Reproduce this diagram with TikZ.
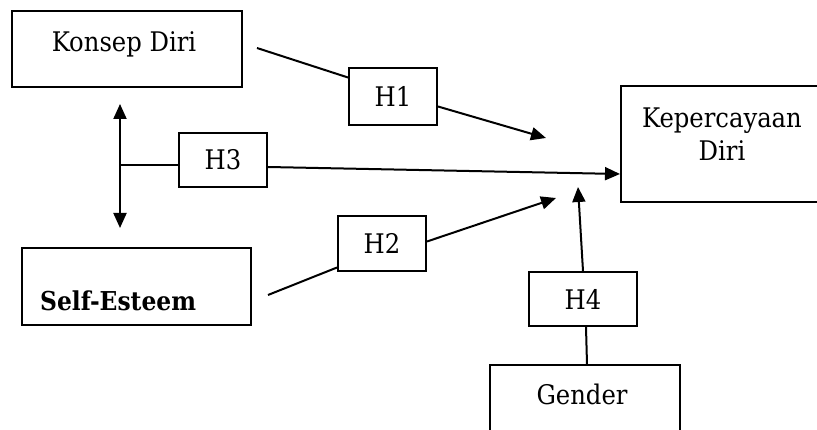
\documentclass[tikz,border=0pt]{standalone}
\usepackage{fontspec}
\setmainfont{DejaVu Serif Condensed}
\usetikzlibrary{arrows.meta}
\begin{document}
\begin{tikzpicture}[x=1pt,y=-1pt,
  box/.style={draw=black,line width=2pt,rectangle,inner sep=0pt},
  txt/.style={inner sep=0pt,font=\fontsize{27}{33}\selectfont},
  conn/.style={draw=black,line width=2pt},
  arr/.style={conn,-{Triangle[length=15pt,width=13pt]}},
  darr/.style={conn,{Triangle[length=15pt,width=13pt]}-{Triangle[length=15pt,width=13pt]}}]
\useasboundingbox (0,0) rectangle (817,430);
\begin{scope}
\clip (0,0) rectangle (817,430);
% main boxes
\node[box,minimum width=230pt,minimum height=76pt] (konsep) at (127,49) {};
\node[txt] (tkonsep) at (124,44) {Konsep Diri};
\node[box,minimum width=229pt,minimum height=77pt] (self) at (136.5,286.5) {};
\node[txt,anchor=base west,font=\fontsize{26}{31}\selectfont\bfseries] (tself) at (40,311) {Self-Esteem};
\node[box,minimum width=230pt,minimum height=116pt] (kep) at (736,144) {};
\node[txt,align=center] (tkep) at (722,134) {Kepercayaan\\Diri};
\node[box,minimum width=190pt,minimum height=90pt] (gender) at (585,410) {};
\node[txt] (tgender) at (582,394) {Gender};
% hypothesis boxes
\node[box,minimum width=88pt,minimum height=57pt] (h1) at (393,96.5) {};
\node[txt] at (h1) {H1};
\node[box,minimum width=88pt,minimum height=54pt] (h3) at (223,160) {};
\node[txt] at (h3) {H3};
\node[box,minimum width=88pt,minimum height=55pt] (h2) at (382,243.5) {};
\node[txt] at (h2) {H2};
\node[box,minimum width=108pt,minimum height=54pt] (h4) at (583,299) {};
\node[txt] at (h4) {H4};
% free ends
\coordinate (kout) at (257,48);
\coordinate (t1) at (546,138);
\coordinate (sout) at (268,295);
\coordinate (t2) at (556,198);
\coordinate (t4) at (578,187);
\coordinate (vtop) at (120,104);
\coordinate (vbot) at (120,228);
\coordinate (vmid) at (120,165);
% connectors
\draw[conn] (kout) -- ([yshift=19pt]h1.west);
\draw[arr] ([yshift=-10pt]h1.east) -- (t1);
\draw[darr] (vtop) -- (vbot);
\draw[conn] (vmid) -- ([yshift=-5pt]h3.west);
\draw[arr] ([yshift=-7pt]h3.east) -- ([yshift=-30pt]kep.west);
\draw[conn] (sout) -- ([yshift=-24pt]h2.west);
\draw[arr] ([yshift=2pt]h2.east) -- (t2);
\draw[conn] (gender.north -| 587,0) -- (h4.south -| 586,0);
\draw[arr] (h4.north) -- (t4);
\end{scope}
\end{tikzpicture}
\end{document}
